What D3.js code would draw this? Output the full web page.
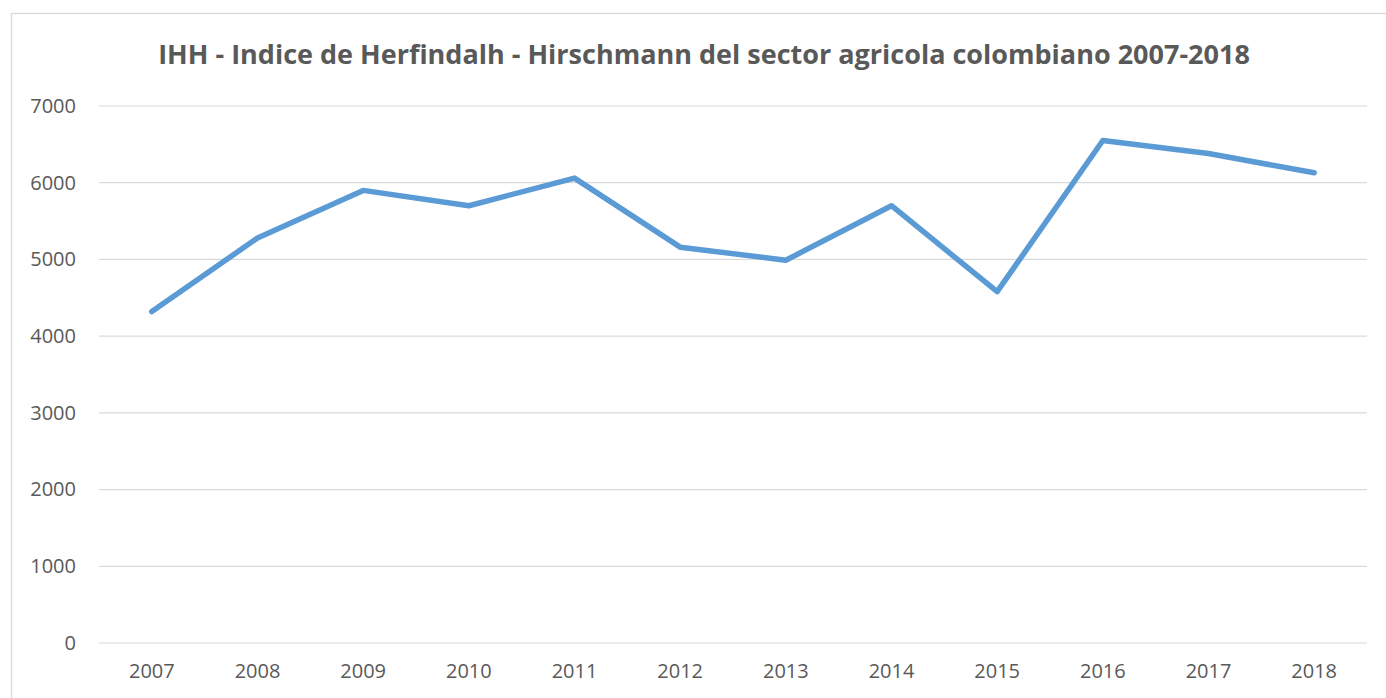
<!DOCTYPE html>
<head>
<meta charset="utf-8">
<script src="https://d3js.org/d3.v7.min.js"></script>
<title>IHH sector agricola</title>
<style>
  body { margin: 0; background: #fff; }
  svg { display: block; }
</style>
</head>
<body>
<div id="graph_container"></div>
<script>
// chart values
let years = ['2007','2008','2009','2010','2011','2012','2013','2014','2015','2016','2017','2018'];
let ihh = [4320, 5280, 5900, 5700, 6060, 5160, 4990, 5700, 4580, 6550, 6380, 6130];
let yTicks = [0, 1000, 2000, 3000, 4000, 5000, 6000, 7000];
let title = 'IHH - Indice de Herfindalh - Hirschmann del sector agricola colombiano 2007-2018';

let W = 1386, H = 698;
let svg = d3.select('#graph_container').append('svg')
    .attr('width', W)
    .attr('height', H);

// chart frame, it runs off the right and bottom edges
svg.append('rect')
    .attr('x', 11.5).attr('y', 13.5)
    .attr('width', W + 20).attr('height', H + 20)
    .attr('fill', 'none')
    .attr('stroke', '#d9d9d9')
    .attr('stroke-width', 1.3);

svg.append('text')
    .attr('x', 704)
    .attr('y', 64)
    .attr('text-anchor', 'middle')
    .style('font-family', 'Open Sans')
    .style('font-weight', 'bold')
    .style('font-size', '27px')
    .style('fill', '#595959')
    .text(title);

var x = d3.scaleBand().domain(years).range([99, 1367]);
var y = d3.scaleLinear().domain([0, 7000]).range([643, 106]);

// gridlines
svg.append('g')
    .selectAll('line')
    .data(yTicks)
    .enter()
    .append('line')
        .attr('x1', 99).attr('x2', 1367)
        .attr('y1', d => y(d)).attr('y2', d => y(d))
        .attr('stroke', '#d9d9d9')
        .attr('stroke-width', 1.2);

var yaxis = svg.append('g')
    .attr('transform', 'translate(99,0)')
    .call(d3.axisLeft(y).tickValues(yTicks).tickSize(0).tickPadding(23).tickFormat(d3.format('d')));
yaxis.select('.domain').remove();
yaxis.selectAll('text')
    .style('font-family', 'Open Sans')
    .style('font-size', '20px')
    .style('fill', '#595959');

var xaxis = svg.append('g')
    .attr('transform', 'translate(0,643)')
    .call(d3.axisBottom(x).tickSize(0).tickPadding(21));
xaxis.select('.domain').remove();
xaxis.selectAll('text')
    .style('font-family', 'Open Sans')
    .style('font-size', '20px')
    .style('fill', '#595959');

let line = d3.line()
    .x(function(d, i) { return x(years[i]) + x.bandwidth() / 2; })
    .y(function(d) { return y(d); });

svg.append('path')
    .datum(ihh)
    .attr('d', line)
    .style('fill', 'none')
    .style('stroke', '#5b9bd5')
    .style('stroke-width', 5.5)
    .style('stroke-linecap', 'round')
    .style('stroke-linejoin', 'round');
</script>
</body>
